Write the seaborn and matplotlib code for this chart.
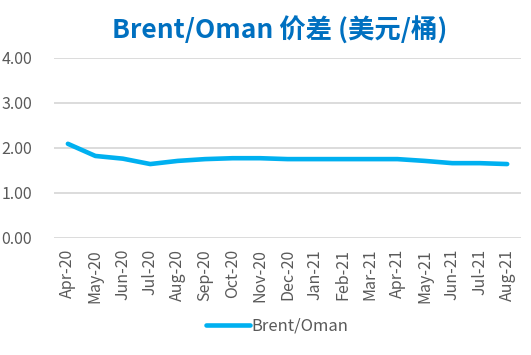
import matplotlib
matplotlib.use("Agg")
from matplotlib import pyplot as plt
import seaborn as sns
import pandas as pd

# Data
months = ['Apr-20', 'May-20', 'Jun-20', 'Jul-20', 'Aug-20', 'Sep-20', 'Oct-20', 'Nov-20',
          'Dec-20', 'Jan-21', 'Feb-21', 'Mar-21', 'Apr-21', 'May-21', 'Jun-21', 'Jul-21', 'Aug-21']
spread = [2.09, 1.82, 1.76, 1.64, 1.71, 1.75, 1.77, 1.77,
          1.75, 1.75, 1.75, 1.75, 1.75, 1.71, 1.66, 1.66, 1.64]

df = pd.DataFrame({'月份': months, 'Brent/Oman': spread})

sns.set_style('white')
plt.rcParams['font.family'] = ['Noto Sans CJK SC', 'DejaVu Sans']

fig = plt.figure(figsize=(5.31, 3.55), dpi=100)
ax = fig.add_axes([0.102, 0.33, 0.879, 0.507])

sns.lineplot(data=df, x='月份', y='Brent/Oman', sort=False, color='#00B0F0',
             linewidth=3.3, solid_capstyle='round', label='Brent/Oman', ax=ax)

ax.set_xlim(-0.5, len(months) - 0.5)
ax.set_ylim(0, 4)
ax.set_yticks([0, 1, 2, 3, 4])
ax.set_yticklabels(['%.2f' % v for v in [0, 1, 2, 3, 4]])
ax.yaxis.grid(True, color='#D9D9D9', linewidth=1.3)
ax.set_axisbelow(True)
for s in ax.spines.values():
    s.set_visible(False)
ax.tick_params(axis='both', length=0, colors='#595959', labelsize=11.5)
ax.tick_params(axis='y', pad=16)
ax.tick_params(axis='x', pad=8)
plt.setp(ax.get_xticklabels(), rotation=90)
ax.set_xlabel('')
ax.set_ylabel('')

fig.suptitle('Brent/Oman 价差 (美元/桶)', x=0.527, y=0.952, fontsize=19,
             fontweight='bold', color='#0070C0')

leg = ax.legend(loc='center', bbox_to_anchor=(0.478, -0.49), frameon=False,
                fontsize=12, handlelength=2.6, handletextpad=0.1)
for t in leg.get_texts():
    t.set_color('#595959')

fig.savefig('out.png', dpi=100)
